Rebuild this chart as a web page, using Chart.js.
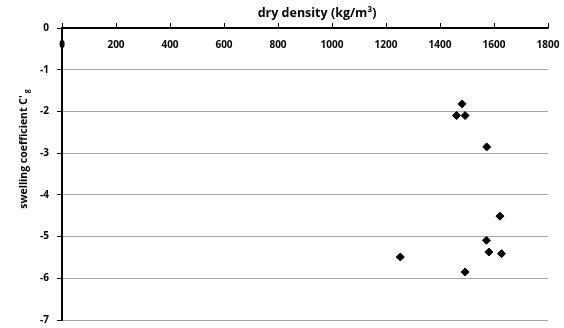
<!DOCTYPE html>
<html><head><meta charset="utf-8">
<script src="https://cdn.jsdelivr.net/npm/chart.js@4"></script>
<style>html,body{margin:0;padding:0;background:#fff}#wrap{width:564px;height:328px}</style>
</head><body><div id="wrap"><canvas id="c" width="564" height="328"></canvas></div>
<script>
const density = [1482, 1461, 1493, 1573, 1622, 1572, 1581, 1628, 1253, 1493];
const swelling = [-1.82, -2.10, -2.10, -2.85, -4.51, -5.09, -5.37, -5.41, -5.49, -5.85];
const xTicks = [0, 200, 400, 600, 800, 1000, 1200, 1400, 1600, 1800];
const yTicks = [0, -1, -2, -3, -4, -5, -6, -7];
const xTitle = 'dry density (kg/m³)';
const yTitleMain = "swelling coefficient C'";
const yTitleSub = 'g';

const FONT = '"Open Sans", "Liberation Sans", sans-serif';

const titlePlugin = {
  id: 'titles',
  afterDraw(chart) {
    const ctx = chart.ctx;
    ctx.save();
    ctx.fillStyle = '#000';
    ctx.font = 'bold 12.5px ' + FONT;
    ctx.textAlign = 'center';
    ctx.textBaseline = 'middle';
    ctx.fillText(xTitle, 317, 13);
    ctx.translate(24, 149);
    ctx.rotate(-Math.PI / 2);
    ctx.font = 'bold 10.5px ' + FONT;
    const wMain = ctx.measureText(yTitleMain).width;
    ctx.font = 'bold 7px ' + FONT;
    const wSub = ctx.measureText(yTitleSub).width;
    const total = wMain + 2 + wSub;
    ctx.textAlign = 'left';
    ctx.font = 'bold 10.5px ' + FONT;
    ctx.fillText(yTitleMain, -total / 2, 0);
    ctx.font = 'bold 7px ' + FONT;
    ctx.fillText(yTitleSub, -total / 2 + wMain + 2, 3);
    ctx.restore();
  }
};

new Chart(document.getElementById('c'), {
  type: 'scatter',
  data: {
    datasets: [{
      data: density.map((x, i) => ({x: x, y: swelling[i]})),
      pointStyle: 'rectRot',
      pointRadius: 4,
      pointBackgroundColor: '#000',
      pointBorderColor: '#000',
      pointBorderWidth: 1
    }]
  },
  options: {
    responsive: false,
    animation: false,
    layout: {padding: {left: 0, right: 16, top: 0, bottom: 8}},
    plugins: {legend: {display: false}, tooltip: {enabled: false}},
    scales: {
      x: {
        type: 'linear',
        position: 'top',
        min: xTicks[0],
        max: xTicks[xTicks.length - 1],
        afterBuildTicks: s => { s.ticks = xTicks.map(v => ({value: v})); },
        afterFit: s => { s.height = 28; s.paddingLeft = 0; s.paddingRight = 0; },
        ticks: {
          color: '#000',
          font: {family: FONT, size: 10, weight: 'bold'},
          mirror: true,
          padding: 11,
          maxRotation: 0,
          autoSkip: false,
          callback: v => String(v)
        },
        grid: {drawOnChartArea: false, drawTicks: true, tickLength: 5, color: '#000', lineWidth: 1},
        border: {display: true, color: '#000', width: 1.5}
      },
      y: {
        type: 'linear',
        position: 'left',
        min: yTicks[yTicks.length - 1],
        max: yTicks[0],
        afterBuildTicks: s => { s.ticks = yTicks.slice().reverse().map(v => ({value: v})); },
        afterFit: s => { s.width = 62; s.paddingTop = 0; s.paddingBottom = 0; },
        ticks: {
          color: '#000',
          font: {family: FONT, size: 10, weight: 'bold'},
          padding: 8,
          callback: v => String(v)
        },
        grid: {
          color: c => (c.tick && c.tick.value === 0) ? '#000' : '#a6a6a6',
          tickColor: '#000',
          lineWidth: 1,
          tickLength: 5
        },
        border: {display: true, color: '#000', width: 2}
      }
    }
  },
  plugins: [titlePlugin]
});
</script>
</body></html>
